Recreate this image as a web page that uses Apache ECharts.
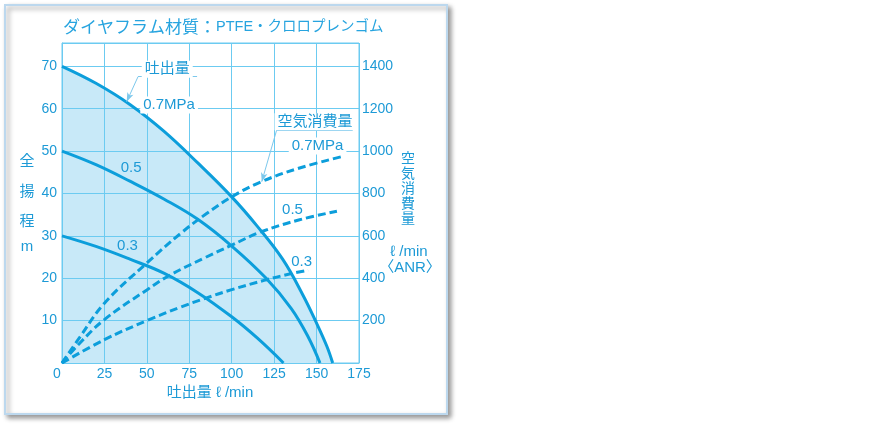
<!DOCTYPE html>
<html><head><meta charset="utf-8">
<script src="https://cdn.jsdelivr.net/npm/echarts@6/dist/echarts.min.js"></script>
<style>html,body{margin:0;padding:0;background:#fff}#c{width:880px;height:430px}</style>
</head><body><div id="c"></div>
<script>
// ---- data (flow ℓ/min, head m) ----
const head07 = [[0,70],[20,66],[40,61],[60,54.7],[80,47.2],[100,39.2],[115,32.3],[130,24.5],[142,16],[150,9.4],[156,4],[159.5,0]];
const head05 = [[0,50],[20,46.8],[40,42.9],[60,38.7],[80,33.9],[100,27.6],[120,20.1],[135,12.9],[145,6.2],[152,0]];
const head03 = [[0,30],[20,27.5],[40,24.5],[60,21.2],[80,16.6],[100,10.9],[115,5.9],[130.5,0]];
// ---- air consumption (flow ℓ/min, ℓ/min ANR) ----
const air07 = [[0,0],[10,116],[25,282],[50,472],[70,612],[85,704],[100,784],[117,854],[140,920],[166,976]];
const air05 = [[0,0],[10,90],[25,205],[50,345],[63,412],[84,496],[100,556],[117,618],[140,676],[162,716]];
const air03 = [[0,0],[25,110],[50,200],[70,264],[84,304],[100,346],[120,392],[134,420],[145,438]];
const flowMax = 175, flowStep = 25;
const headMax = 75.5, headStep = 10, headLabelMax = 70;
const airMax = 1510, airStep = 200, airLabelMax = 1400;

const BLUE = '#0c9edb', GRID = '#6ccbf1', FILL = '#c8e9f8', TXT = '#1d9ad6', LEAD = '#7cc8ec';
const FONT = '"Liberation Sans","Noto Sans CJK JP",sans-serif';
const JP = '"Noto Sans CJK JP","Liberation Sans",sans-serif';

const chart = echarts.init(document.getElementById('c'), null, {renderer: 'canvas'});

function lbl(coord, text, bg) {
  return {coord: coord, symbol: 'circle', symbolSize: 1, itemStyle: {color: 'transparent'},
    label: {show: true, position: 'inside', formatter: text, color: TXT, fontSize: 15, fontFamily: FONT,
      backgroundColor: bg ? '#fff' : 'transparent', padding: bg ? [1, 3, 1, 3] : 0}};
}
function seg(a, b, arrow) {
  return [{coord: a, symbol: 'none'}, {coord: b, symbol: arrow ? 'arrow' : 'none', symbolSize: [5, 9]}];
}

function lineSeries(data, dashed, yIdx) {
  return {type: 'line', data: data, yAxisIndex: yIdx, smooth: 0.4,
    symbol: 'none', z: 3, silent: true,
    lineStyle: {color: BLUE, width: 3, type: dashed ? [8, 4] : 'solid', cap: 'butt'}};
}

const txt = (x, y, s, size, align, fam) => ({type: 'text', x: x, y: y, z: 10,
  style: {text: s, fill: TXT, font: (size || 15) + 'px ' + (fam || FONT), align: align || 'center', verticalAlign: 'middle'}});

const option = {
  animation: false,
  backgroundColor: '#fff',
  grid: {left: 62, right: 521, top: 43, bottom: 67, show: true, borderColor: GRID, borderWidth: 1, backgroundColor: 'transparent'},
  xAxis: {type: 'value', min: 0, max: flowMax, interval: flowStep, z: 1,
    axisLine: {show: true, lineStyle: {color: GRID, width: 1}}, axisTick: {show: false},
    splitLine: {show: true, lineStyle: {color: GRID, width: 1}},
    axisLabel: {color: TXT, fontSize: 14, fontFamily: FONT, margin: 4,
      formatter: v => v === 0 ? '{z|0}' : String(v),
      rich: {z: {color: TXT, fontSize: 14, fontFamily: FONT, padding: [0, 10, 0, 0]}}}},
  yAxis: [
    {type: 'value', min: 0, max: headMax, interval: headStep, z: 1,
      axisLine: {show: true, lineStyle: {color: GRID}}, axisTick: {show: false},
      splitLine: {show: true, lineStyle: {color: GRID, width: 1}},
      axisLabel: {color: TXT, fontSize: 14, fontFamily: FONT, margin: 5,
        formatter: v => (v > 0 && v <= headLabelMax && v % headStep === 0) ? String(v) : ''}},
    {type: 'value', min: 0, max: airMax, interval: airStep, position: 'right', z: 1,
      axisLine: {show: false}, axisTick: {show: false}, splitLine: {show: false},
      axisLabel: {color: TXT, fontSize: 14, fontFamily: FONT, margin: 3,
        formatter: v => (v > 0 && v <= airLabelMax && v % airStep === 0) ? String(v) : ''}}
  ],
  series: [
    {type: 'line', data: head07, yAxisIndex: 0, smooth: 0.4, symbol: 'none', z: 0, silent: true,
      lineStyle: {width: 0}, areaStyle: {color: FILL, opacity: 1}},
    lineSeries(air07, true, 1),
    lineSeries(air05, true, 1),
    lineSeries(air03, true, 1),
    lineSeries(head05, false, 0),
    lineSeries(head03, false, 0),
    Object.assign(lineSeries(head07, false, 0), {
      markLine: {silent: true, animation: false, label: {show: false},
        lineStyle: {color: LEAD, width: 1, type: 'solid'},
        emphasis: {disabled: true},
        data: [
          seg([44.8, 67.56], [79.6, 67.56], false),
          seg([44.8, 67.56], [38.1, 61.66], true),
          seg([126.5, 54.98], [171.3, 54.98], false),
          seg([126.5, 54.98], [117.7, 42.78], true)
        ]},
      markPoint: {silent: true, animation: false,
        data: [
          lbl([62.0, 69.3], '吐出量', true),
          lbl([63.1, 60.88], '0.7MPa', true),
          lbl([40.7, 46.0], '0.5', false),
          lbl([38.6, 27.6], '0.3', false),
          lbl([149.1, 56.9], '空気消費量', true),
          lbl([150.6, 51.2], '0.7MPa', true),
          lbl([135.8, 36.1], '0.5', false),
          lbl([141.2, 23.9], '0.3', false)
        ]}
    })
  ],
  graphic: [
    {type: 'rect', z: -100, shape: {x: 5, y: 5, width: 442, height: 409},
      style: {fill: '#fff', stroke: '#bcd8ee', lineWidth: 2, shadowBlur: 5, shadowOffsetX: 3, shadowOffsetY: 3, shadowColor: 'rgba(0,0,0,0.4)'}},
    {type: 'text', x: 63, y: 27, z: 10, style: {
      text: '{a|ダイヤフラム材質：}{b|PTFE・クロロプレンゴム}', verticalAlign: 'middle', align: 'left',
      rich: {a: {fontSize: 17, fontFamily: JP, fill: '#27a4df'}, b: {fontSize: 14.5, fontFamily: FONT, fill: '#27a4df'}}}},
    txt(27, 160, '全', 15, 'center', JP),
    txt(27, 190, '揚', 15, 'center', JP),
    txt(27, 220, '程', 15, 'center', JP),
    txt(27, 247, 'm', 15, 'center', FONT),
    txt(408, 158, '空', 14, 'center', JP),
    txt(408, 173, '気', 14, 'center', JP),
    txt(408, 188, '消', 14, 'center', JP),
    txt(408, 203, '費', 14, 'center', JP),
    txt(408, 218, '量', 14, 'center', JP),
    txt(409, 252, 'ℓ /min', 15, 'center', FONT),
    txt(410, 268, '〈ANR〉', 15, 'center', FONT),
    txt(210, 393, '吐出量 ℓ /min', 15, 'center', FONT)
  ]
};
chart.setOption(option);
</script></body></html>
